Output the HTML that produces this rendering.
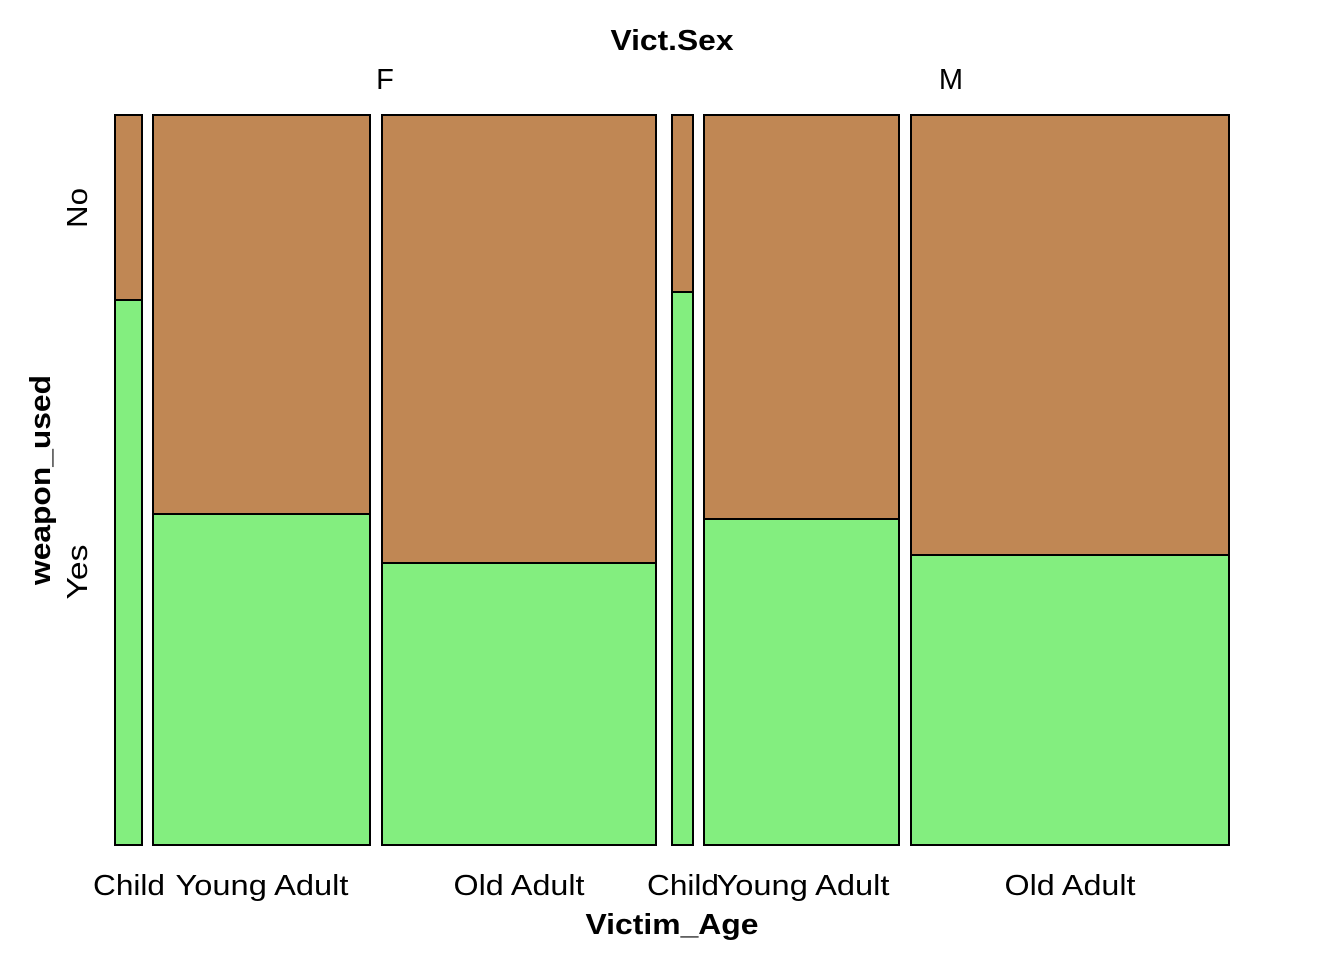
<!DOCTYPE html>
<html><head><style>body{margin:0;background:#fff}</style></head><body>
<svg width="1344" height="960" xmlns="http://www.w3.org/2000/svg" font-family="Liberation Sans, Arial, sans-serif">
<g stroke="#000" stroke-width="2">
<rect x="115" y="115" width="27" height="185" fill="#C08754"/><rect x="115" y="300" width="27" height="545" fill="#83EE7F"/>
<rect x="153" y="115" width="217" height="399" fill="#C08754"/><rect x="153" y="514" width="217" height="331" fill="#83EE7F"/>
<rect x="382" y="115" width="274" height="448" fill="#C08754"/><rect x="382" y="563" width="274" height="282" fill="#83EE7F"/>
<rect x="672" y="115" width="21" height="177" fill="#C08754"/><rect x="672" y="292" width="21" height="553" fill="#83EE7F"/>
<rect x="704" y="115" width="195" height="404" fill="#C08754"/><rect x="704" y="519" width="195" height="326" fill="#83EE7F"/>
<rect x="911" y="115" width="318" height="440" fill="#C08754"/><rect x="911" y="555" width="318" height="290" fill="#83EE7F"/>
</g>
<g font-size="29" text-anchor="middle" lengthAdjust="spacingAndGlyphs">
<text x="672" y="50" font-weight="bold" textLength="123" lengthAdjust="spacingAndGlyphs">Vict.Sex</text>
<text x="385" y="89">F</text><text x="951" y="89">M</text>
<text x="129" y="895" textLength="72" lengthAdjust="spacingAndGlyphs">Child</text>
<text x="262" y="895" textLength="173" lengthAdjust="spacingAndGlyphs">Young Adult</text>
<text x="519" y="895" textLength="131" lengthAdjust="spacingAndGlyphs">Old Adult</text>
<text x="683" y="895" textLength="72" lengthAdjust="spacingAndGlyphs">Child</text>
<text x="803" y="895" textLength="173" lengthAdjust="spacingAndGlyphs">Young Adult</text>
<text x="1070" y="895" textLength="131" lengthAdjust="spacingAndGlyphs">Old Adult</text>
<text x="672" y="934" font-weight="bold" textLength="173" lengthAdjust="spacingAndGlyphs">Victim_Age</text>
<text transform="translate(87,208) rotate(-90)" textLength="40" lengthAdjust="spacingAndGlyphs">No</text>
<text transform="translate(87,572) rotate(-90)" textLength="55" lengthAdjust="spacingAndGlyphs">Yes</text>
<text transform="translate(50,480) rotate(-90)" font-weight="bold" textLength="210" lengthAdjust="spacingAndGlyphs">weapon_used</text>
</g>
</svg>
</body></html>
